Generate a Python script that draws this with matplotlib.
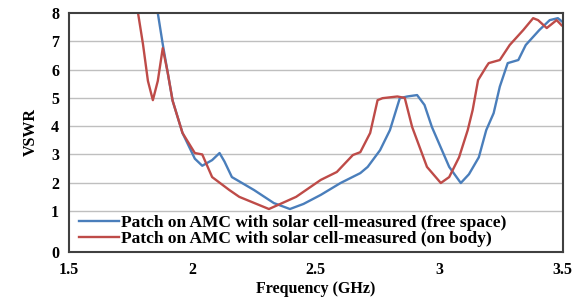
import numpy as np
import matplotlib
matplotlib.use("Agg")
import matplotlib.pyplot as plt

# free space measurement (blue)
f_free = [1.86, 1.88, 1.92, 1.96, 2.01, 2.04, 2.08, 2.11, 2.13, 2.16, 2.25, 2.33,
          2.395, 2.45, 2.52, 2.60, 2.68, 2.71, 2.76, 2.80, 2.84, 2.87, 2.91, 2.94,
          2.97, 3.04, 3.087, 3.12, 3.16, 3.19, 3.22, 3.245, 3.277, 3.32, 3.35,
          3.405, 3.447, 3.48, 3.50]
v_free = [8.0, 6.9, 4.9, 3.76, 2.85, 2.6, 2.8, 3.05, 2.75, 2.2, 1.74, 1.28,
          1.07, 1.25, 1.57, 1.99, 2.34, 2.56, 3.15, 3.86, 4.99, 5.05, 5.1, 4.75,
          3.97, 2.56, 1.99, 2.3, 2.9, 3.86, 4.46, 5.4, 6.23, 6.34, 6.87,
          7.4, 7.75, 7.82, 7.68]

# on body measurement (red)
f_body = [1.78, 1.80, 1.82, 1.84, 1.86, 1.88, 1.90, 1.92, 1.96, 2.01, 2.04, 2.08, 2.15,
          2.19, 2.31, 2.42, 2.52, 2.585, 2.65, 2.68, 2.72, 2.75, 2.77, 2.83, 2.86,
          2.89, 2.95, 3.006, 3.04, 3.08, 3.115, 3.135, 3.157, 3.19, 3.20, 3.245,
          3.285, 3.34, 3.38, 3.40, 3.435, 3.475, 3.495]
v_body = [8.0, 6.9, 5.6, 4.92, 5.6, 6.76, 5.9, 4.9, 3.76, 3.05, 3.0, 2.2, 1.74,
          1.5, 1.07, 1.5, 2.1, 2.38, 2.98, 3.08, 3.76, 4.92, 4.99, 5.05, 5.0,
          3.97, 2.56, 1.99, 2.2, 2.9, 3.86, 4.57, 5.63, 6.1, 6.23, 6.34,
          6.87, 7.4, 7.82, 7.75, 7.47, 7.75, 7.57]

labels = ["Patch on AMC with solar cell-measured (free space)",
          "Patch on AMC with solar cell-measured (on body)"]

plt.rcParams['font.family'] = ['Liberation Serif', 'DejaVu Serif']
plt.rcParams['font.weight'] = 'bold'


def fwd(y):
    y = np.asarray(y, dtype=float)
    return np.where(y >= 1, y, 1 - (1 - y) * 1.45)


def inv(y):
    y = np.asarray(y, dtype=float)
    return np.where(y >= 1, y, 1 - (1 - y) / 1.45)


fig = plt.figure(figsize=(5.79, 2.97), dpi=100)
ax = fig.add_axes([0.119, 0.1515, 0.853, 0.8045])
ax.set_yscale('function', functions=(fwd, inv))

ax.plot(f_free, v_free, color='#4a7ebb', lw=1.7, label=labels[0])
ax.plot(f_body, v_body, color='#be4b48', lw=1.7, label=labels[1])

ax.set_xlim(1.5, 3.5)
ax.set_ylim(0, 8)
ax.set_xticks([1.5, 2, 2.5, 3, 3.5])
ax.set_xticklabels(['1.5', '2', '2.5', '3', '3.5'])
ax.set_yticks(range(9))
ax.set_yticklabels([str(i) for i in range(9)])
for y in range(1, 8):
    ax.axhline(y, color='#bfbfbf', lw=1, zorder=0)
ax.tick_params(length=0, labelsize=11.5, pad=7)
for s in ax.spines.values():
    s.set_color('#404040')
    s.set_linewidth(1.5)

ax.set_xlabel('Frequency (GHz)', fontsize=11.5, fontweight='bold', labelpad=2)
ax.set_ylabel('VSWR', fontsize=11.5, fontweight='bold', labelpad=9)

ax.legend(loc='lower left', bbox_to_anchor=(-0.005, -0.03), frameon=False,
          handlelength=2.3, handletextpad=0.15, labelspacing=0.0,
          borderaxespad=0.3, prop={'weight': 'bold', 'size': 12.5})

fig.savefig('out.png', dpi=100)
